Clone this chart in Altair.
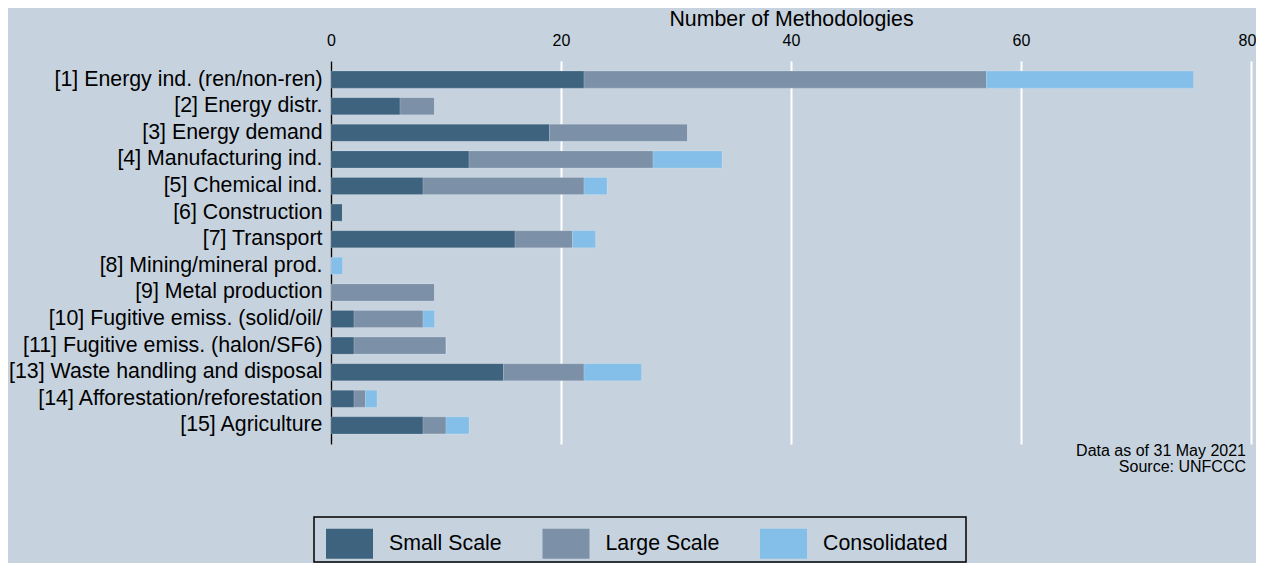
import altair as alt
import pandas as pd

categories = [
    "[1] Energy ind. (ren/non-ren)",
    "[2] Energy distr.",
    "[3] Energy demand",
    "[4] Manufacturing ind.",
    "[5] Chemical ind.",
    "[6] Construction",
    "[7] Transport",
    "[8] Mining/mineral prod.",
    "[9] Metal production",
    "[10] Fugitive emiss. (solid/oil/",
    "[11] Fugitive emiss. (halon/SF6)",
    "[13] Waste handling and disposal",
    "[14] Afforestation/reforestation",
    "[15] Agriculture",
]
small_scale = [22, 6, 19, 12, 8, 1, 16, 0, 0, 2, 2, 15, 2, 8]
large_scale = [35, 3, 12, 16, 14, 0, 5, 0, 9, 6, 8, 7, 1, 2]
consolidated = [18, 0, 0, 6, 2, 0, 2, 1, 0, 1, 0, 5, 1, 2]

series_names = ["Small Scale", "Large Scale", "Consolidated"]
series_colors = ["#3D637F", "#7C91A8", "#83BFE9"]
x_ticks = [0, 20, 40, 60, 80]
note_text = "Data as of 31 May 2021\nSource: UNFCCC"

rows = []
for i, c in enumerate(categories):
    for k, vals in enumerate([small_scale, large_scale, consolidated]):
        rows.append({"category": c, "series": series_names[k], "order": k, "value": vals[i]})
df = pd.DataFrame(rows)

rect_path = "M-1,-0.64H1V0.64H-1Z"
BIG = 21.33

bars = alt.Chart(df).mark_bar(stroke="white", strokeOpacity=0.15, strokeWidth=1).encode(
    y=alt.Y(
        "category:N",
        sort=categories,
        title=None,
        scale=alt.Scale(paddingInner=0.36, paddingOuter=0.38),
        axis=alt.Axis(
            domainColor="black", domainWidth=1.5, ticks=False, tickSize=0,
            labelPadding=9, labelFontSize=BIG, labelColor="black", labelLimit=500,
        ),
    ),
    x=alt.X(
        "value:Q",
        stack="zero",
        scale=alt.Scale(domain=[0, 80], nice=False),
        axis=alt.Axis(
            orient="top", values=x_ticks, title="Number of Methodologies",
            grid=True, gridColor="white", gridWidth=2, domain=False,
            ticks=False, tickSize=0, labelFontSize=16, labelColor="black",
            labelPadding=13, labelFlush=False, titleFontSize=BIG,
            titleFontWeight="normal", titleColor="black", titlePadding=3,
            labelOffset={"condition": {"test": "datum.value == 80", "value": -4}, "value": 0},
        ),
    ),
    color=alt.Color(
        "series:N",
        scale=alt.Scale(domain=series_names, range=series_colors),
        legend=alt.Legend(
            title=None, orient="none", legendX=-17, legendY=456,
            direction="horizontal", columns=3,
            symbolType=rect_path, symbolSize=2209, symbolStrokeWidth=0,
            symbolOpacity=1, symbolOffset=9, labelFontSize=BIG, labelColor="black",
            labelOffset=16, columnPadding=31.5, padding=3,
            strokeColor="black", labelLimit=500,
            labelExpr="datum.label == 'Consolidated' ? datum.label + '\u2800' : datum.label",
        ),
    ),
    order=alt.Order("order:Q"),
)

notes = alt.Chart(pd.DataFrame({"note": [note_text]})).mark_text(
    align="right", baseline="alphabetic", fontSize=16, lineBreak="\n",
    lineHeight=16, color="black",
).encode(x=alt.value(915), y=alt.value(395), text="note:N")

chart = (
    alt.layer(bars, notes)
    .properties(
        width=920, height=383,
        padding={"left": 0, "top": 0, "right": 0, "bottom": 0},
        background="#C6D3DF",
    )
    .configure(font="Liberation Sans")
    .configure_view(stroke=None)
    .configure_legend(strokeWidth=1.5)
)

chart.save("out.html", embed_options={"renderer": "svg", "actions": False})
